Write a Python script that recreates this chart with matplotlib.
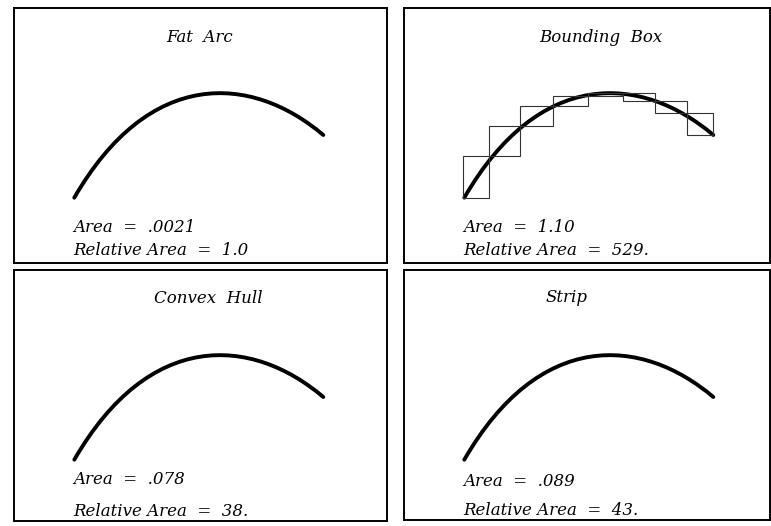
import matplotlib
matplotlib.use("Agg")
import matplotlib.pyplot as plt
from matplotlib.patches import Rectangle, PathPatch
from matplotlib.path import Path

# courbe de Bezier cubique (points de controle, pixels relatifs au cadre, y vers le bas)
ctrl_x = [60.3, 135.3, 237.3, 309.3]
ctrl_y = [189.7, 59.8, 66, 127]

# boites englobantes : bornes en x, et y haut / bas de chaque boite
box_edges_x = [59, 85.3, 116, 149.3, 184.3, 218.5, 251, 282.7, 309.3]
box_top = [148, 118, 98, 88, 85, 85, 92.7, 105.3]
box_bottom = [190, 148, 118, 98, 88, 92.7, 105.3, 127]

titles = ["Fat  Arc", "Bounding  Box", "Convex  Hull", "Strip"]
areas = [".0021", "1.10", ".078", ".089"]
rel_areas = ["1.0", "529.", "38.", "43."]

W, H = 771, 526
fig = plt.figure(figsize=(W / 100, H / 100), dpi=100)

# cadres : gauche, haut, droite, bas (pixels)
frames = [(14, 8, 387, 263), (404, 8, 770, 263),
          (14, 270, 387, 521), (404, 270, 770, 520)]
title_pos = [(186, 33.5), (197, 33.5), (194, 33), (162.5, 31.5)]
text_y = [(223.5, 247), (223.5, 247), (213.5, 245.5), (216, 245)]

font = dict(family="DejaVu Serif", style="italic", fontsize=12, color="black")

for i in range(4):
    l, t, r, b = frames[i]
    ax = fig.add_axes([l / W, 1 - b / H, (r - l) / W, (b - t) / H])
    ax.set_xlim(0, r - l)
    ax.set_ylim(b - t, 0)
    ax.set_xticks([])
    ax.set_yticks([])
    for s in ax.spines.values():
        s.set_linewidth(1.4)
        s.set_color("black")

    # la courbe
    path = Path(list(zip(ctrl_x, ctrl_y)),
                [Path.MOVETO, Path.CURVE4, Path.CURVE4, Path.CURVE4])
    ax.add_patch(PathPatch(path, fill=False, ec="black", lw=2.8, capstyle="round"))

    # les boites seulement pour le 2e graphique
    if i == 1:
        for k in range(len(box_top)):
            x0 = box_edges_x[k]
            w = box_edges_x[k + 1] - x0
            ax.add_patch(Rectangle((x0, box_top[k]), w, box_bottom[k] - box_top[k],
                                   fill=False, ec="#333333", lw=0.8))

    tx, ty = title_pos[i]
    ax.text(tx, ty, titles[i], ha="center", va="baseline", **font)
    ax.text(59, text_y[i][0], "Area  =  " + areas[i], ha="left", va="baseline", **font)
    ax.text(59, text_y[i][1], "Relative Area  =  " + rel_areas[i], ha="left",
            va="baseline", **font)

plt.savefig("out.png", dpi=100)
